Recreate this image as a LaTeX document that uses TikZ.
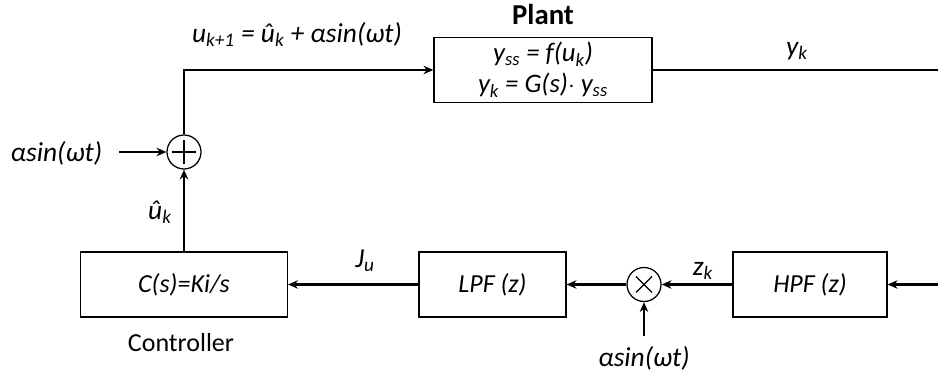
\documentclass[tikz,border=0pt]{standalone}
\usepackage{fontspec}
\setmainfont{Carlito}
\usetikzlibrary{arrows.meta,positioning,calc}
\newcommand{\sbs}[1]{\textsubscript{#1}}

\begin{document}
\begin{tikzpicture}[x=1cm,y=1cm,>={Stealth[length=7pt,width=6pt]},
  font=\fontsize{18.5}{22}\selectfont,
  blk/.style={draw,line width=0.9pt,minimum height=1.625cm,font=\fontsize{18.5}{22}\selectfont\itshape},
  lbl/.style={font=\fontsize{19.5}{22}\selectfont\itshape},
  junc/.style={draw,circle,line width=0.9pt,minimum size=0.85cm,inner sep=0pt},
  sumj/.style={junc,path picture={\draw[line width=0.9pt] (path picture bounding box.center) ++(-0.31,0) -- ++(0.62,0)
    (path picture bounding box.center) ++(0,-0.31) -- ++(0,0.62);}},
  mulj/.style={junc,path picture={\draw[line width=0.9pt] (path picture bounding box.center) ++(-0.2,-0.2) -- ++(0.4,0.4)
    (path picture bounding box.center) ++(-0.2,0.2) -- ++(0.4,-0.4);}},
  sig/.style={line width=1.9pt}]
\useasboundingbox (0,0) rectangle (23.45,9.475);
% blocks
\node[blk,minimum width=5.45cm,align=center,font=\fontsize{19}{22}\selectfont\itshape] (plant) at (13.575,7.725)
  {y\sbs{ss} = f(u\sbs{k})\\ y\sbs{k} = G(s)$\cdot$ y\sbs{ss}};
\node[font=\fontsize{20.5}{22}\selectfont\bfseries] (plantname) at (13.575,9.1) {Plant};
\node[blk,minimum width=5.175cm] (ctrl) at (4.6,2.3625) {C(s)=Ki/s};
\node (ctrlname) at (4.525,0.9) {Controller};
\node[blk,minimum width=3.675cm] (lpf) at (12.3125,2.3625) {LPF (z)};
\node[blk,minimum width=3.85cm] (hpf) at (20.25,2.3625) {HPF (z)};
% junctions
\node[sumj] (sum) at (4.6,5.675) {};
\node[mulj] (mult) at (16.1,2.3625) {};
% signal labels
\node[lbl] (sinl) at (1.41,5.65) {αsin(ωt)};
\node[lbl] (sinb) at (16.1,0.525) {αsin(ωt)};
\node[lbl] (ulbl) at (7.425,8.62) {u\sbs{k+1} = û\sbs{k} + αsin(ωt)};
\node[lbl] (ylbl) at (19.925,8.2) {y\sbs{k}};
\node[lbl] (uhat) at (4.0,4.17) {û\sbs{k}};
\node[lbl] (jlbl) at (9.125,2.95) {J\sbs{u}};
\node[lbl] (zlbl) at (17.575,2.7) {z\sbs{k}};
\coordinate (sinlend) at (2.975,5.675);
\coordinate (sinbend) at (16.1,1.075);
\coordinate (yout) at (23.45,7.725);
\coordinate (hin) at (23.45,2.3625);
% connections
\draw[sig,->] (sinlend) -- (sum.west);
\draw[sig,->] (sum.north) |- (plant.west);
\draw[sig] (plant.east) -- (yout);
\draw[sig,->] (ctrl.north) -- (sum.south);
\draw[sig,->] (lpf.west) -- (ctrl.east);
\draw[sig,->] (mult.west) -- (lpf.east);
\draw[sig,->] (hpf.west) -- (mult.east);
\draw[sig,->] (hin) -- (hpf.east);
\draw[sig,->] (sinbend) -- (mult.south);
\end{tikzpicture}
\end{document}
